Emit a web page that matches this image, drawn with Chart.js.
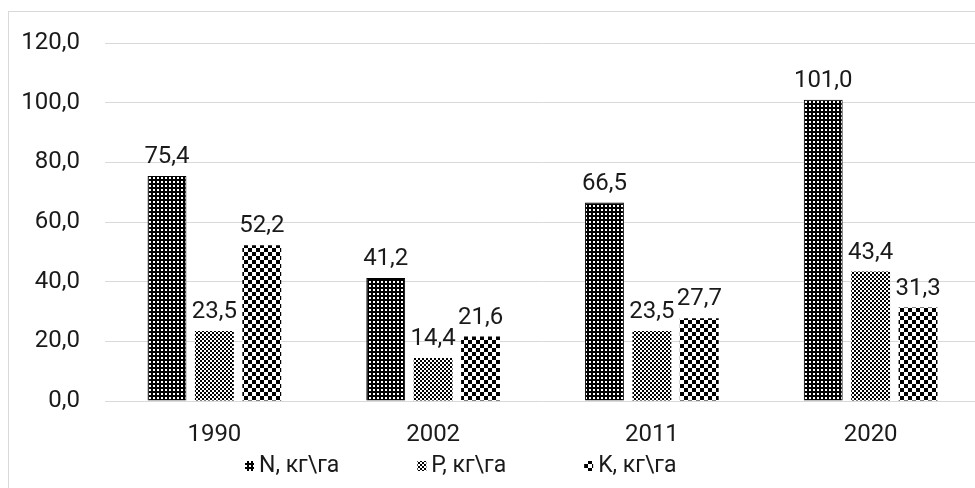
<!DOCTYPE html>
<html><head><meta charset="utf-8">
<script src="https://cdn.jsdelivr.net/npm/chart.js@4.4.1/dist/chart.umd.min.js"></script>
<style>
html,body{margin:0;padding:0;background:#fff;overflow:hidden;width:975px;height:488px;}
#frame{position:absolute;left:8px;top:11px;width:1100px;height:600px;border-left:1px solid #d9d9d9;border-top:1px solid #d9d9d9;}
#c{position:absolute;left:0;top:0;}
</style></head>
<body>
<div id="frame"></div>
<canvas id="c" width="990" height="520"></canvas>
<script>
const categories = ['1990', '2002', '2011', '2020'];
const seriesNames = ['N, кг\\га', 'P, кг\\га', 'K, кг\\га'];
const nValues = [75.4, 41.2, 66.5, 101.0];
const pValues = [23.5, 14.4, 23.5, 43.4];
const kValues = [52.2, 21.6, 27.7, 31.3];
const yTicks = [0, 20, 40, 60, 80, 100, 120];

const FONT = 'Roboto, "DejaVu Sans", sans-serif';
const TEXT = '#1a1a1a';

function makePattern(size, painter) {
  const c = document.createElement('canvas');
  c.width = size; c.height = size;
  const g = c.getContext('2d');
  g.fillStyle = '#fff'; g.fillRect(0, 0, size, size);
  g.fillStyle = '#000';
  painter(g);
  return document.getElementById('c').getContext('2d').createPattern(c, 'repeat');
}
const patN = makePattern(4, g => { g.fillRect(0,0,4,4); g.fillStyle='#fff'; g.fillRect(1,1,2,2); });
const patP = makePattern(4, g => { g.fillRect(0,0,2,2); g.fillRect(2,2,2,2); });
const patK = makePattern(8, g => { g.fillRect(0,0,4,4); g.fillRect(4,4,4,4); });
const patterns = [patN, patP, patK];

const fmt = v => v.toFixed(1).replace('.', ',');

const valueLabels = {
  id: 'valueLabels',
  afterDatasetsDraw(chart) {
    const ctx = chart.ctx;
    ctx.save();
    ctx.font = '24px ' + FONT;
    ctx.fillStyle = TEXT;
    ctx.textAlign = 'center';
    ctx.textBaseline = 'bottom';
    chart.data.datasets.forEach((ds, i) => {
      chart.getDatasetMeta(i).data.forEach((el, j) => {
        ctx.fillText(fmt(ds.data[j]), el.x, el.y - 7);
      });
    });
    ctx.restore();
  }
};

const customLegend = {
  id: 'customLegend',
  afterDraw(chart) {
    const ctx = chart.ctx;
    ctx.save();
    ctx.font = '23px ' + FONT;
    ctx.textBaseline = 'middle';
    ctx.textAlign = 'left';
    let x = 245;
    const y = 466;
    chart.data.datasets.forEach((ds, i) => {
      ctx.fillStyle = patterns[i];
      ctx.fillRect(x, y - 5, 9, 10);
      ctx.fillStyle = TEXT;
      ctx.fillText(ds.label, x + 14, y);
      x += 14 + ctx.measureText(ds.label).width + 78;
    });
    ctx.restore();
  }
};

new Chart(document.getElementById('c'), {
  type: 'bar',
  data: {
    labels: categories,
    datasets: [
      { label: seriesNames[0], data: nValues, backgroundColor: patN, borderColor: '#000', borderWidth: 1 },
      { label: seriesNames[1], data: pValues, backgroundColor: patP, borderWidth: 0 },
      { label: seriesNames[2], data: kValues, backgroundColor: patK, borderWidth: 0 }
    ]
  },
  options: {
    responsive: false,
    animation: false,
    devicePixelRatio: 1,
    layout: { padding: { left: 0, right: 10, top: 43, bottom: 59 } },
    datasets: { bar: { categoryPercentage: 0.65, barPercentage: 0.82 } },
    plugins: { legend: { display: false }, tooltip: { enabled: false } },
    scales: {
      x: {
        grid: { display: false, drawTicks: false },
        border: { display: false },
        ticks: { color: TEXT, font: { family: FONT, size: 24 }, padding: 20 },
        afterFit: s => { s.height = 60; }
      },
      y: {
        min: 0, max: 120,
        afterBuildTicks: s => { s.ticks = yTicks.map(v => ({ value: v })); },
        grid: { color: '#d9d9d9', lineWidth: 1, drawTicks: false },
        border: { display: false },
        ticks: { color: TEXT, font: { family: FONT, size: 24 }, padding: 25, callback: v => fmt(v) },
        afterFit: s => { s.width = 105; }
      }
    }
  },
  plugins: [valueLabels, customLegend]
});
</script>
</body></html>
